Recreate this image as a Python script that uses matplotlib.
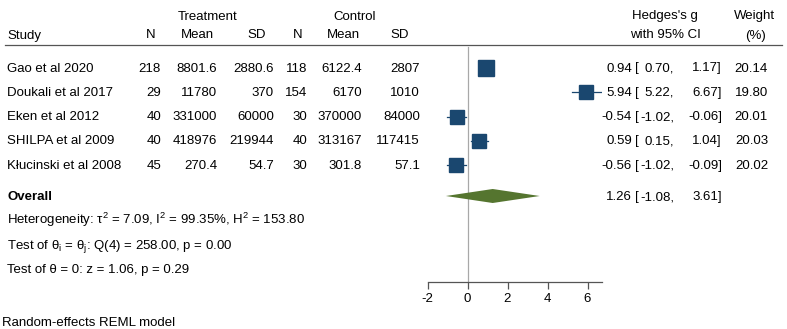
import matplotlib
matplotlib.use("Agg")
import matplotlib.pyplot as plt
import matplotlib.transforms as mtransforms
import numpy as np

plt.rcParams['font.family'] = ['Liberation Sans', 'DejaVu Sans']
plt.rcParams['mathtext.fontset'] = 'custom'
plt.rcParams['mathtext.rm'] = 'Liberation Sans'
plt.rcParams['mathtext.it'] = 'Liberation Sans'
plt.rcParams['axes.unicode_minus'] = False

studies = ["Gao et al 2020", "Doukali et al 2017", "Eken et al 2012",
           "SHILPA et al 2009", "Kłucinski et al 2008"]
n_treat = [218, 29, 40, 40, 45]
mean_treat = [8801.6, 11780, 331000, 418976, 270.4]
sd_treat = [2880.6, 370, 60000, 219944, 54.7]
n_ctrl = [118, 154, 30, 40, 30]
mean_ctrl = [6122.4, 6170, 370000, 313167, 301.8]
sd_ctrl = [2807, 1010, 84000, 117415, 57.1]
g = [0.94, 5.94, -0.54, 0.59, -0.56]
ci_lo = [0.70, 5.22, -1.02, 0.15, -1.02]
ci_hi = [1.17, 6.67, -0.06, 1.04, -0.09]
weight = [20.14, 19.80, 20.01, 20.03, 20.02]
overall = (1.26, -1.08, 3.61)
xticks = [-2, 0, 2, 4, 6]

W, H = 787, 329
navy = "#1a476f"
green = "#55752f"
fs = 9.5

fig = plt.figure(figsize=(W / 100, H / 100), dpi=100)

# forest axes placed by pixel positions
x0, x1 = 427.5, 601.5
y_top, y_bot = 45, 282
ax = fig.add_axes([x0 / W, 1 - y_bot / H, (x1 - x0) / W, (y_bot - y_top) / H])
row0, step = 68, 24.3
def row(py):
    return (py - row0) / step
ax.set_xlim(-2, 6.7)
ax.set_ylim(row(y_bot), row(y_top))
for s in ["top", "right", "left"]:
    ax.spines[s].set_visible(False)
ax.spines["bottom"].set_color("#555555")
ax.spines["bottom"].set_linewidth(0.9)
ax.set_yticks([])
ax.set_xticks(xticks)
ax.tick_params(axis="x", length=5, width=0.9, color="#555555", labelsize=fs, pad=3)

ys = np.arange(len(studies))
ax.plot([0, 0], [row(47), row(y_bot)], color="#a8a8a8", lw=0.9, zorder=1)
for i in range(len(studies)):
    ax.plot([ci_lo[i], ci_hi[i]], [ys[i], ys[i]], color=navy, lw=0.9, zorder=2)
    ax.plot(g[i], ys[i], marker="s", color=navy, ms=10.8 * np.sqrt(weight[i] / 20.1),
            mec=navy, zorder=3, clip_on=False)

y_ov = row(196)
hd = 7 / step
ax.fill([overall[1], overall[0], overall[2], overall[0]],
        [y_ov, y_ov - hd, y_ov, y_ov + hd], color=green, lw=0, zorder=3)

# text in figure-x pixel / data-y coordinates, py is the baseline pixel
tr = mtransforms.blended_transform_factory(
    mtransforms.Affine2D().scale(1 / W, 1) + fig.transFigure, ax.transData)
def txt(px, py, s, ha="left", **kw):
    ax.text(px, row(py), s, transform=tr, ha=ha, va="baseline", fontsize=fs,
            clip_on=False, **kw)

# header
txt(208, 19.5, "Treatment", ha="center")
txt(355, 19.5, "Control", ha="center")
txt(665, 19.5, "Hedges's g", ha="center")
txt(755, 19.5, "Weight", ha="center")
txt(7, 38.5, "Study")
for px, s in [(151, "N"), (197, "Mean"), (257, "SD"), (298, "N"), (343, "Mean"), (400, "SD")]:
    txt(px, 38.5, s, ha="center")
txt(665, 38.5, "with 95% CI", ha="center")
txt(755, 38.5, "(%)", ha="center")
ax.plot([5, 782], [row(44.5), row(44.5)], transform=tr, color="#555555", lw=0.9, clip_on=False)

def fmt_ci(v):
    return f"{v:.2f}"

def ci_text(py, est, lo, hi):
    txt(632, py, fmt_ci(est), ha="right")
    txt(635, py, "[")
    txt(674, py, fmt_ci(lo) + ",", ha="right")
    txt(722, py, fmt_ci(hi) + "]", ha="right")

for i, name in enumerate(studies):
    py = 71.5 + step * i
    txt(7, py, name)
    txt(161, py, f"{n_treat[i]}", ha="right")
    txt(217, py, f"{mean_treat[i]:g}", ha="right")
    txt(274, py, f"{sd_treat[i]:g}", ha="right")
    txt(307, py, f"{n_ctrl[i]}", ha="right")
    txt(362, py, f"{mean_ctrl[i]:g}", ha="right")
    txt(420, py, f"{sd_ctrl[i]:g}", ha="right")
    ci_text(py, g[i], ci_lo[i], ci_hi[i])
    txt(768, py, f"{weight[i]:.2f}", ha="right")

txt(7, 200, "Overall", fontweight="bold")
ci_text(200, *overall)

txt(7, 224.3, r"Heterogeneity: τ$^\mathregular{2}$ = 7.09, I$^\mathregular{2}$ = 99.35%, H$^\mathregular{2}$ = 153.80")
txt(7, 248.6, r"Test of θ$_\mathregular{i}$ = θ$_\mathregular{j}$: Q(4) = 258.00, p = 0.00")
txt(7, 273, "Test of θ = 0: z = 1.06, p = 0.29")
txt(2, 326.5, "Random-effects REML model")

fig.savefig("out.png", dpi=100)
